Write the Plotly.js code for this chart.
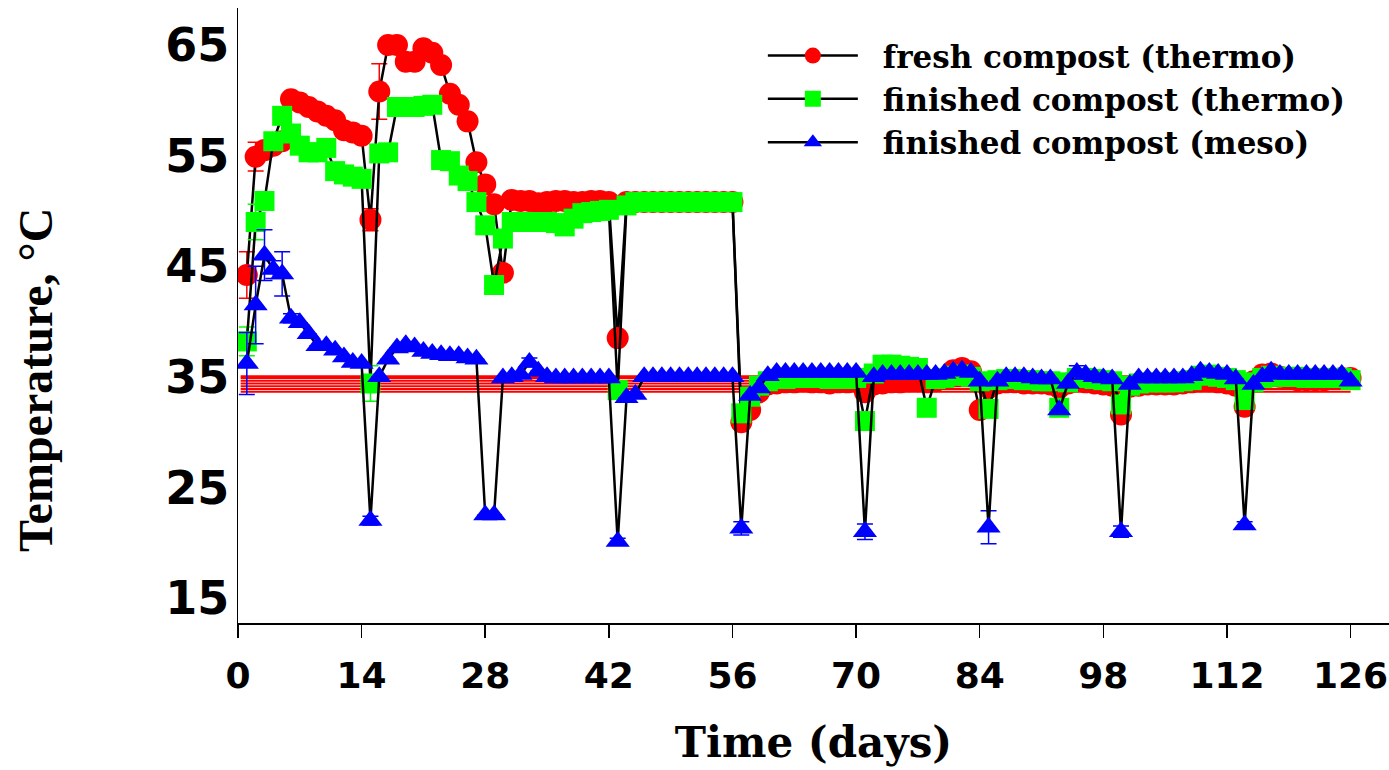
<!DOCTYPE html>
<html><head><meta charset="utf-8">
<script src="https://cdn.plot.ly/plotly-3.0.1.min.js"></script>
<style>html,body{margin:0;padding:0;background:#fff}#chart{width:1389px;height:770px}</style>
</head><body><div id="chart"></div>
<script>
// ---- data ----
const days = [1,2,3,4,5,6,7,8,9,10,11,12,13,14,15,16,17,18,19,20,21,22,23,24,25,26,27,28,29,30,
  31,32,33,34,35,36,37,38,39,40,41,42,43,44,45,46,47,48,49,50,51,52,53,54,55,56,57,58,59,60,
  61,62,63,64,65,66,67,68,69,70,71,72,73,74,75,76,77,78,79,80,81,82,83,84,85,86,87,88,89,90,
  91,92,93,94,95,96,97,98,99,100,101,102,103,104,105,106,107,108,109,110,111,112,113,114,115,116,117,118,119,120,
  121,122,123,124,125,126];

const freshThermo = [44.2,54.9,55.5,55.9,56.3,60.1,59.8,59.4,59.0,58.6,
  58.2,57.3,57.1,56.8,49.2,60.8,65.0,65.0,63.5,63.5,
  64.7,64.3,63.2,60.6,59.6,58.1,54.4,52.4,50.6,44.4,
  51.0,50.9,50.9,50.7,50.8,50.9,50.9,50.8,50.8,50.9,
  50.9,50.8,38.5,50.8,50.8,50.8,50.8,50.8,50.8,50.8,
  50.8,50.8,50.8,50.8,50.8,50.8,30.9,32.0,33.6,34.3,
  34.4,34.5,34.5,34.6,34.5,34.5,34.4,34.5,34.5,34.6,
  33.6,34.3,34.4,34.5,34.5,34.6,34.6,34.5,34.6,34.8,
  35.6,35.8,35.5,32.0,34.0,34.4,34.5,34.5,34.4,34.4,
  34.4,34.3,34.0,34.4,34.6,34.5,34.4,34.3,34.2,31.6,
  34.1,34.2,34.3,34.3,34.3,34.3,34.4,34.5,34.6,34.6,
  34.5,34.4,34.2,32.3,34.6,35.2,35.3,35.0,34.8,34.7,
  34.7,34.7,34.7,34.8,34.9,34.9];

const finishedThermo = [38.2,49.0,50.9,56.3,58.6,57.0,55.9,55.3,55.3,55.7,
  53.6,53.3,53.1,52.9,34.4,55.2,55.3,59.4,59.4,59.4,
  59.5,59.6,54.6,54.5,53.2,52.7,50.8,48.7,43.3,47.5,
  49.0,49.0,49.0,49.0,49.0,48.9,48.6,49.3,49.8,49.9,
  50.0,50.1,33.8,50.5,50.8,50.8,50.8,50.8,50.8,50.8,
  50.8,50.8,50.8,50.8,50.8,50.8,31.7,33.2,34.2,34.6,
  34.8,34.8,34.9,34.9,34.9,34.9,34.8,34.8,34.8,34.9,
  31.0,35.3,36.1,36.1,36.0,35.9,35.8,32.2,34.8,34.9,
  35.1,35.2,35.0,34.6,32.1,34.7,34.8,34.8,34.7,34.7,
  34.6,34.6,32.2,34.5,34.9,34.9,34.8,34.7,34.6,32.5,
  34.2,34.4,34.5,34.5,34.5,34.5,34.6,34.7,35.1,35.2,
  35.0,34.9,34.7,32.9,34.5,34.9,35.1,35.0,35.0,35.0,
  34.9,34.9,34.9,34.9,34.9,34.7];

const finishedMeso = [36.2,41.5,46.0,44.7,44.3,40.3,39.9,38.9,37.8,37.8,
  37.4,36.8,36.3,36.2,22.0,35.0,36.6,37.6,37.9,37.7,
  37.3,37.1,37.0,36.9,36.9,36.7,36.6,22.5,22.5,34.9,
  35.0,35.2,36.3,35.5,35.0,34.9,34.9,34.9,34.9,34.9,
  34.9,34.9,20.1,33.1,33.4,35.0,35.0,35.0,35.0,35.0,
  35.0,35.0,35.0,35.0,35.0,35.0,21.3,33.3,34.0,35.1,
  35.4,35.4,35.4,35.4,35.4,35.4,35.4,35.4,35.4,35.4,
  21.0,35.0,35.2,35.2,35.2,35.2,35.2,35.2,35.2,35.3,
  35.5,35.6,35.4,34.6,21.4,34.6,35.0,35.0,35.0,34.9,
  34.8,34.8,32.0,34.4,35.4,35.2,35.0,34.9,34.8,21.0,
  34.3,34.9,34.9,34.9,34.9,34.9,34.9,35.1,35.5,35.4,
  35.3,35.2,34.8,21.6,34.3,35.0,35.5,35.2,35.2,35.2,
  35.2,35.2,35.2,35.2,35.2,34.6];

// visible error bars: [day, +/- value]
const freshErr = [[1,2.1],[2,1.3],[15,1.0],[16,2.5],[21,0.5],[43,0.4]];
const thermoErr = [[1,1.3],[2,1.6],[3,0.5],[15,1.6],[43,0.8]];
const mesoErr = [[1,2.8],[2,3.5],[3,2.3],[4,0.8],[5,2.0],[6,0.4],[15,0.4],[33,0.4],[43,0.3],
  [57,0.6],[71,0.7],[85,1.5],[95,0.6],[100,0.5],[114,0.3]];

// stray red horizontal rules visible across the plot
const strayLineTemps = [33.65,33.9,34.15,34.4,34.65,34.9,35.05];
const strayLineSpan = [0.3,126];

const seriesNames = ['fresh compost (thermo)','finished compost (thermo)','finished compost (meso)'];
const xTicks = [0,14,28,42,56,70,84,98,112,126];
const yTicks = [15,25,35,45,55,65];

// ---- build ----
function errArray(list){
  const m = new Map(list);
  return days.map(d => m.has(d) ? m.get(d) : 0);
}
const sx = [], sy = [];
strayLineTemps.forEach(t => { sx.push(strayLineSpan[0], strayLineSpan[1], null); sy.push(t, t, null); });

const traces = [
  {x:sx, y:sy, mode:'lines', line:{color:'#ff0000', width:2}, showlegend:false, hoverinfo:'skip'},
  {x:days, y:freshThermo, name:seriesNames[0], mode:'lines+markers',
   line:{color:'#000', width:2.5},
   marker:{symbol:'circle', size:22, color:'#ff0000', line:{width:0}},
   error_y:{type:'data', array:errArray(freshErr), color:'#ff0000', thickness:1.5, width:8}},
  {x:days, y:finishedThermo, name:seriesNames[1], mode:'lines+markers',
   line:{color:'#000', width:2.5},
   marker:{symbol:'square', size:20, color:'#00ff00', line:{width:0}},
   error_y:{type:'data', array:errArray(thermoErr), color:'#00ff00', thickness:1.5, width:8}},
  {x:days, y:finishedMeso, name:seriesNames[2], mode:'lines+markers',
   line:{color:'#000', width:2.5},
   marker:{symbol:'triangle-up', size:21, color:'#0000ff', line:{width:0}},
   error_y:{type:'data', array:errArray(mesoErr), color:'#0000ff', thickness:1.5, width:8}}
];

const layout = {
  width:1389, height:770,
  paper_bgcolor:'#fff', plot_bgcolor:'#fff',
  margin:{l:238, r:0, t:8, b:147, pad:0},
  showlegend:true,
  legend:{x:0.456, y:0.966, xanchor:'left', yanchor:'top', bgcolor:'rgba(0,0,0,0)', borderwidth:0,
    itemwidth:110, font:{family:'DejaVu Serif', size:31, weight:'bold', color:'#000'}},
  xaxis:{range:[0,130.35], showline:true, linecolor:'#000', linewidth:1.5, mirror:false,
    showgrid:false, zeroline:false, ticks:'outside', ticklen:13, tickwidth:1.5, tickcolor:'#000',
    tickmode:'array', tickvals:xTicks, ticktext:xTicks.map(String), ticklabeloverflow:'allow',
    ticklabelstandoff:7,
    tickfont:{family:'DejaVu Sans', size:36, weight:'bold', color:'#000'},
    title:{text:'Time (days)', font:{family:'DejaVu Serif', size:42, weight:'bold', color:'#000'}, standoff:33}},
  yaxis:{range:[12.74,68.35], showline:true, linecolor:'#000', linewidth:1.5, mirror:false,
    showgrid:false, zeroline:false, ticks:'', tickmode:'array', tickvals:yTicks, ticktext:yTicks.map(String),
    ticklabelstandoff:-2,
    tickfont:{family:'DejaVu Sans', size:46, weight:'bold', color:'#000'}},
  annotations:[{text:'Temperature, °C', textangle:-90, xref:'paper', yref:'paper',
    x:(35-238)/1151, y:(623-380)/615, xanchor:'center', yanchor:'middle', showarrow:false,
    font:{family:'Liberation Serif', size:48, weight:'bold', color:'#000'}}]
};

Plotly.newPlot('chart', traces, layout, {staticPlot:true, displayModeBar:false}).then(gd => {
  gd.querySelectorAll('.legend .traces').forEach(t => {
    t.querySelectorAll('path.js-line').forEach(p => p.setAttribute('d','M5,0h90'));
    t.querySelectorAll('.legendpoints path.scatterpts').forEach(p => p.setAttribute('transform','translate(50,0)'));
  });
});
</script></body></html>
